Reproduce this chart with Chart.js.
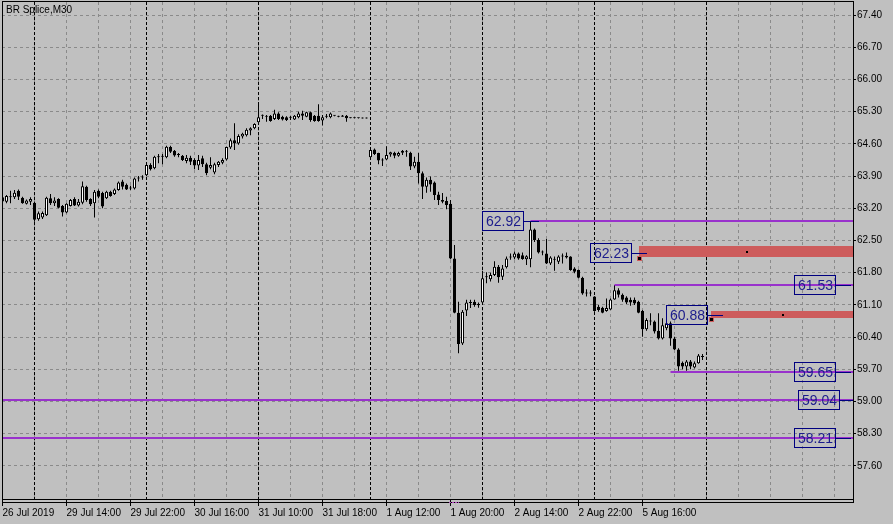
<!DOCTYPE html>
<html><head><meta charset="utf-8">
<script src="https://cdn.jsdelivr.net/npm/chart.js@4.4.1/dist/chart.umd.min.js"></script>
<style>html,body{margin:0;padding:0;background:#c0c0c0;overflow:hidden}canvas{display:block}</style>
</head><body>
<canvas id="c" width="893" height="524"></canvas>
<script>
// ---- data (BR Splice, M30) ----
const opens = [
63.44,63.34,63.44,63.44,63.58,63.43,63.30,63.34,63.32,62.96,
63.00,63.05,63.42,63.31,63.40,63.25,63.11,63.25,63.40,63.26,
63.32,63.67,63.40,63.31,63.58,63.53,63.42,63.56,63.51,63.60,
63.78,63.71,63.64,63.63,63.85,63.87,63.92,64.14,64.07,64.31,
64.32,64.31,64.53,64.45,64.36,
64.34,64.23,64.30,64.25,64.13,64.29,64.16,64.08,63.98,64.14,
64.19,64.26,64.52,64.68,64.61,64.76,64.79,64.89,64.94,65.07,
65.21,65.19,65.21,65.14,65.26,65.19,65.18,65.17,65.13,65.18,
65.26,65.19,65.29,65.21,65.21,65.11,65.21,65.18,65.21,65.20,
65.22,65.21,65.17,65.16,65.16,65.16,65.15,
64.31,64.48,64.40,64.26,64.26,64.37,64.41,64.34,64.41,64.43,
64.41,64.11,64.21,63.96,63.67,63.82,63.76,63.50,63.38,63.36,
63.30,62.11,60.93,60.26,60.98,61.14,61.17,61.12,61.15,61.70,
61.66,61.75,61.93,
61.71,61.92,62.13,62.13,62.22,62.18,62.09,62.09,62.74,62.51,
62.24,62.22,62.00,62.08,62.04,62.15,62.17,62.15,61.89,61.86,
61.69,61.35,61.36,61.28,61.06,61.04,60.97,61.00,61.22,61.42,
61.32,61.26,61.21,61.21,61.17,60.97,60.57,60.74,60.74,60.54,
60.37,60.59,60.70,60.37,60.13,59.84,59.76,59.87,59.74,59.83,
59.98];
const highs = [
63.47,63.49,63.58,63.60,63.61,63.45,63.39,63.44,63.34,63.13,
63.13,63.45,63.51,63.44,63.42,63.27,63.31,63.40,63.44,63.40,
63.78,63.69,63.42,63.60,63.61,63.56,63.58,63.58,63.63,63.78,
63.82,63.74,63.69,63.87,63.90,63.92,64.18,64.18,64.34,64.38,
64.38,64.56,64.56,64.47,64.40,
64.36,64.36,64.34,64.29,64.36,64.34,64.19,64.31,64.19,64.23,
64.29,64.54,64.72,65.05,64.81,64.84,64.94,64.96,65.05,65.46,
65.24,65.23,65.23,65.34,65.29,65.21,65.20,65.21,65.23,65.30,
65.32,65.30,65.30,65.23,65.46,65.23,65.25,65.28,65.22,65.21,
65.23,65.23,65.17,65.17,65.17,65.16,65.16,
64.49,64.50,64.41,64.29,64.55,64.43,64.43,64.43,64.47,64.47,
64.43,64.32,64.40,64.00,63.87,63.89,63.78,63.56,63.53,63.45,
63.38,62.40,61.17,60.99,61.21,61.21,61.21,61.15,61.84,61.81,
61.80,62.05,61.97,
61.97,62.15,62.22,62.26,62.24,62.24,62.18,62.92,62.76,62.55,
62.28,62.53,62.16,62.15,62.18,62.22,62.24,62.16,61.92,61.87,
61.71,61.44,61.42,61.29,61.10,61.06,61.24,61.24,61.53,61.46,
61.35,61.29,61.26,61.26,61.19,60.99,60.81,60.92,60.76,60.92,
60.81,60.90,60.74,60.41,60.16,59.87,59.90,59.90,59.87,60.03,
60.03];
const lows = [
63.32,63.31,63.31,63.40,63.38,63.30,63.28,63.27,62.91,62.93,
62.97,63.03,63.27,63.25,63.20,63.02,63.09,63.24,63.25,63.24,
63.29,63.34,63.25,63.00,63.42,63.20,63.40,63.45,63.49,63.58,
63.61,63.60,63.60,63.61,63.78,63.82,63.90,64.02,64.05,64.18,
64.16,64.29,64.40,64.32,64.31,
64.23,64.18,64.14,64.05,64.03,64.10,63.92,64.05,63.94,64.10,
64.16,64.24,64.49,64.47,64.58,64.72,64.76,64.79,64.92,65.05,
65.14,65.08,65.08,65.12,65.12,65.11,65.10,65.12,65.12,65.16,
65.12,65.18,65.08,65.08,65.08,65.00,65.16,65.16,65.20,65.18,
65.19,65.08,65.16,65.16,65.15,65.15,65.15,
64.29,64.36,64.16,64.12,64.25,64.32,64.29,64.32,64.36,64.32,
64.03,64.07,63.74,63.40,63.54,63.56,63.38,63.27,63.31,63.18,
62.09,60.92,60.05,60.23,60.86,61.03,61.06,61.04,61.12,61.57,
61.61,61.73,61.58,
61.64,61.89,62.08,62.09,62.08,62.08,61.97,61.92,62.47,62.22,
62.18,61.99,61.97,61.84,61.99,62.00,62.11,61.84,61.79,61.68,
61.32,61.28,61.29,60.95,60.95,60.92,60.95,60.99,61.21,61.26,
61.17,61.12,61.08,61.10,60.92,60.41,60.54,60.66,60.48,60.35,
60.35,60.55,60.21,60.12,59.67,59.70,59.67,59.70,59.72,59.82,
59.90];
const closes = [
63.35,63.47,63.45,63.54,63.45,63.31,63.37,63.40,62.95,63.09,
63.10,63.43,63.31,63.37,63.21,63.11,63.30,63.38,63.26,63.34,
63.68,63.38,63.29,63.56,63.45,63.24,63.56,63.47,63.61,63.76,
63.67,63.61,63.63,63.85,63.86,63.88,64.14,64.05,64.32,64.32,
64.33,64.54,64.43,64.35,64.37,
64.25,64.30,64.21,64.13,64.25,64.16,63.96,64.14,64.16,64.21,
64.25,64.53,64.68,64.61,64.77,64.82,64.91,64.94,65.03,65.18,
65.22,65.20,65.10,65.26,65.14,65.13,65.12,65.18,65.21,65.26,
65.21,65.29,65.12,65.10,65.10,65.18,65.19,65.26,65.21,65.19,
65.19,65.16,65.16,65.16,65.16,65.15,65.16,
64.47,64.38,64.24,64.24,64.36,64.42,64.34,64.40,64.45,64.43,
64.11,64.21,63.96,63.67,63.82,63.72,63.49,63.38,63.34,63.27,
62.11,60.93,60.25,60.95,61.15,61.14,61.10,61.09,61.68,61.70,
61.75,61.93,61.70,
61.89,62.11,62.13,62.22,62.11,62.10,62.16,62.74,62.51,62.24,
62.24,62.00,62.13,62.08,62.15,62.15,62.13,61.86,61.82,61.69,
61.35,61.35,61.35,60.97,60.99,60.93,61.03,61.22,61.42,61.32,
61.21,61.15,61.15,61.13,60.93,60.57,60.77,60.74,60.52,60.37,
60.66,60.70,60.37,60.13,59.76,59.76,59.87,59.76,59.83,60.00,
59.97];

const chartTitle = 'BR Splice,M30';
const xTickLabels = ['26 Jul 2019','29 Jul 14:00','29 Jul 22:00','30 Jul 16:00','31 Jul 10:00',
  '31 Jul 18:00','1 Aug 12:00','1 Aug 20:00','2 Aug 14:00','2 Aug 22:00','5 Aug 16:00'];
const yTickValues = [67.40,66.70,66.00,65.30,64.60,63.90,63.20,62.50,61.80,61.10,60.40,59.70,59.00,58.30,57.60];
const daySeparatorBars = [8,36,64,92,120,148,176];

// chart objects (price levels anchored at bar indices)
const levelLines = [ {price:62.92, fromBar:132}, {price:61.53, fromBar:153}, {price:59.65, fromBar:167},
                     {price:59.04, fromBar:null}, {price:58.21, fromBar:null} ];
const priceTags = [ {price:62.92, bar:130}, {price:62.23, bar:157}, {price:60.88, bar:176},
                    {price:61.53, bar:208}, {price:59.65, bar:208}, {price:59.04, bar:209}, {price:58.21, bar:208} ];
const zoneTop = [62.39, 60.97];
const zoneBottom = [62.15, 60.81];
const zoneFromBar = [159, 177];
const zoneToBar = [213, 213];

// ---- build ----
const idx = closes.map((_, i) => i);
const wickData = idx.map(i => ({x: i, y: [lows[i], highs[i]]}));
const bodyData = idx.map(i => ({x: i, y: [opens[i], closes[i]]}));
const bodyColors = idx.map(i => closes[i] > opens[i] ? '#ffffff' : '#000000');

const GRID = '#8a8a8a';
const FONT = '"Liberation Sans", Arial, sans-serif';
Chart.defaults.font.family = FONT;
Chart.defaults.font.size = 10;
Chart.defaults.color = '#000';

const overlay = {
  id: 'overlay',
  beforeDraw(chart) {
    const c = chart.ctx;
    c.save(); c.fillStyle = '#c0c0c0'; c.fillRect(0, 0, chart.width, chart.height); c.restore();
  },
  beforeDatasetsDraw(chart) {
    const {ctx, chartArea: a, scales: {x}} = chart;
    ctx.save();
    ctx.beginPath(); ctx.rect(a.left, a.top, a.right - a.left, a.bottom - a.top); ctx.clip();
    ctx.strokeStyle = '#000'; ctx.lineWidth = 1; ctx.setLineDash([3, 2]);
    daySeparatorBars.forEach(b => {
      const px = Math.floor(x.getPixelForValue(b)) + 0.5;
      ctx.beginPath(); ctx.moveTo(px, a.top); ctx.lineTo(px, a.bottom); ctx.stroke();
    });
    ctx.restore();
  },
  afterDatasetsDraw(chart) {
    const {ctx, chartArea: a, scales: {x, y}} = chart;
    ctx.save();
    ctx.beginPath(); ctx.rect(a.left, a.top, a.right - a.left, a.bottom - a.top); ctx.clip();
    zoneTop.forEach((t, k) => {
      const x0 = Math.round(x.getPixelForValue(zoneFromBar[k]));
      const x1 = Math.round(x.getPixelForValue(zoneToBar[k]));
      const y0 = Math.round(y.getPixelForValue(t));
      const y1 = Math.round(y.getPixelForValue(zoneBottom[k]));
      ctx.fillStyle = '#cd5c5c';
      ctx.fillRect(x0, y0, x1 - x0, y1 - y0);
      const cx = Math.round((x0 + x1) / 2), cy = Math.round((y0 + y1) / 2);
      ctx.fillStyle = '#000'; ctx.fillRect(cx - 1, cy - 1, 2, 2);
      ctx.fillStyle = '#cd5c5c'; ctx.fillRect(x0 - 2, y1 - 1, 5, 5);
      ctx.fillStyle = '#000'; ctx.fillRect(x0 - 1, y1, 3, 3);
    });
    ctx.strokeStyle = '#9932cc'; ctx.lineWidth = 2;
    levelLines.forEach(l => {
      const x0 = l.fromBar === null ? a.left : x.getPixelForValue(l.fromBar);
      const py = Math.round(y.getPixelForValue(l.price));
      ctx.beginPath(); ctx.moveTo(x0, py); ctx.lineTo(a.right, py); ctx.stroke();
    });
    ctx.font = '14px ' + FONT;
    priceTags.forEach(p => {
      const txt = p.price.toFixed(2);
      const right = Math.round(x.getPixelForValue(p.bar));
      const py = Math.round(y.getPixelForValue(p.price));
      const w = 41, h = 19;
      const left = right - w;
      ctx.strokeStyle = '#000080'; ctx.lineWidth = 1;
      ctx.strokeRect(left + 0.5, py - 10 + 0.5, w, h);
      ctx.beginPath(); ctx.moveTo(right, py + 0.5); ctx.lineTo(right + 16, py + 0.5); ctx.stroke();
      ctx.fillStyle = '#1c1c8c'; ctx.textAlign = 'left'; ctx.textBaseline = 'alphabetic';
      ctx.fillText(txt, left + 4, py + 5);
    });
    ctx.restore();
  },
  afterDraw(chart) {
    const {ctx, chartArea: a} = chart;
    ctx.save();
    ctx.strokeStyle = '#000'; ctx.lineWidth = 1; ctx.setLineDash([]);
    ctx.beginPath();
    ctx.moveTo(2, 1.5); ctx.lineTo(854, 1.5);
    ctx.moveTo(2.5, 1); ctx.lineTo(2.5, 503);
    ctx.moveTo(a.right + 0.5, 1); ctx.lineTo(a.right + 0.5, 503);
    ctx.moveTo(2, a.bottom + 0.5); ctx.lineTo(854, a.bottom + 0.5);
    ctx.moveTo(2, a.bottom + 3.5); ctx.lineTo(854, a.bottom + 3.5);
    ctx.stroke();
    ctx.strokeStyle = '#b040c0'; ctx.setLineDash([2, 1]);
    ctx.beginPath(); ctx.moveTo(449, a.bottom + 3.5); ctx.lineTo(459, a.bottom + 3.5); ctx.stroke();
    ctx.setLineDash([]);
    ctx.fillStyle = '#000'; ctx.font = '10px ' + FONT; ctx.textAlign = 'left'; ctx.textBaseline = 'alphabetic';
    ctx.fillText(chartTitle, 6, 13);
    ctx.restore();
  }
};

new Chart(document.getElementById('c'), {
  type: 'bar',
  data: {
    datasets: [
      { label: 'body', data: bodyData, backgroundColor: bodyColors, borderColor: '#000', borderWidth: 1,
        borderSkipped: false, grouped: false, barPercentage: 1, categoryPercentage: 1,
        maxBarThickness: 3, minBarLength: 1, inflateAmount: 0, order: 1 },
      { label: 'wick', data: wickData, backgroundColor: '#000', borderWidth: 0,
        borderSkipped: false, grouped: false, barPercentage: 1, categoryPercentage: 1,
        maxBarThickness: 1, minBarLength: 1, inflateAmount: 0, order: 2 }
    ]
  },
  options: {
    responsive: false, animation: false, events: [],
    layout: { padding: { left: 2, top: 2, right: 0, bottom: 0 } },
    plugins: { legend: { display: false }, tooltip: { enabled: false }, title: { display: false } },
    scales: {
      x: {
        type: 'linear', min: -0.125, max: 212.625, offset: false,
        afterBuildTicks: s => { const t = []; for (let v = 0; v <= 208; v += 8) t.push({value: v}); s.ticks = t; },
        afterFit: s => { s.height = 25; s.paddingLeft = 0; s.paddingRight = 0; },
        grid: { display: true, drawOnChartArea: true, color: GRID, lineWidth: 1, offset: false,
                drawTicks: true, tickLength: 7, tickWidth: 1,
                tickColor: c => (c.tick && c.tick.label) ? '#000' : 'rgba(0,0,0,0)' },
        border: { display: false, dash: [3, 3] },
        ticks: { autoSkip: false, maxRotation: 0, minRotation: 0, align: 'start', padding: 1, color: '#000',
                 font: { size: 10 },
                 callback: v => (v % 16 === 0 && v / 16 < xTickLabels.length) ? xTickLabels[v / 16] : '' }
      },
      y: {
        type: 'linear', position: 'right', min: 56.8804, max: 67.6848, beginAtZero: false,
        afterBuildTicks: s => { s.ticks = yTickValues.map(v => ({value: v})); },
        afterFit: s => { s.width = 40; s.paddingTop = 0; s.paddingBottom = 0; },
        grid: { display: true, drawOnChartArea: true, color: GRID, lineWidth: 1,
                drawTicks: true, tickLength: 3, tickColor: '#000', tickWidth: 1 },
        border: { display: false, dash: [3, 3] },
        ticks: { padding: 1, color: '#000', font: { size: 10 }, callback: v => Number(v).toFixed(2) }
      }
    }
  },
  plugins: [overlay]
});
</script>
</body></html>
